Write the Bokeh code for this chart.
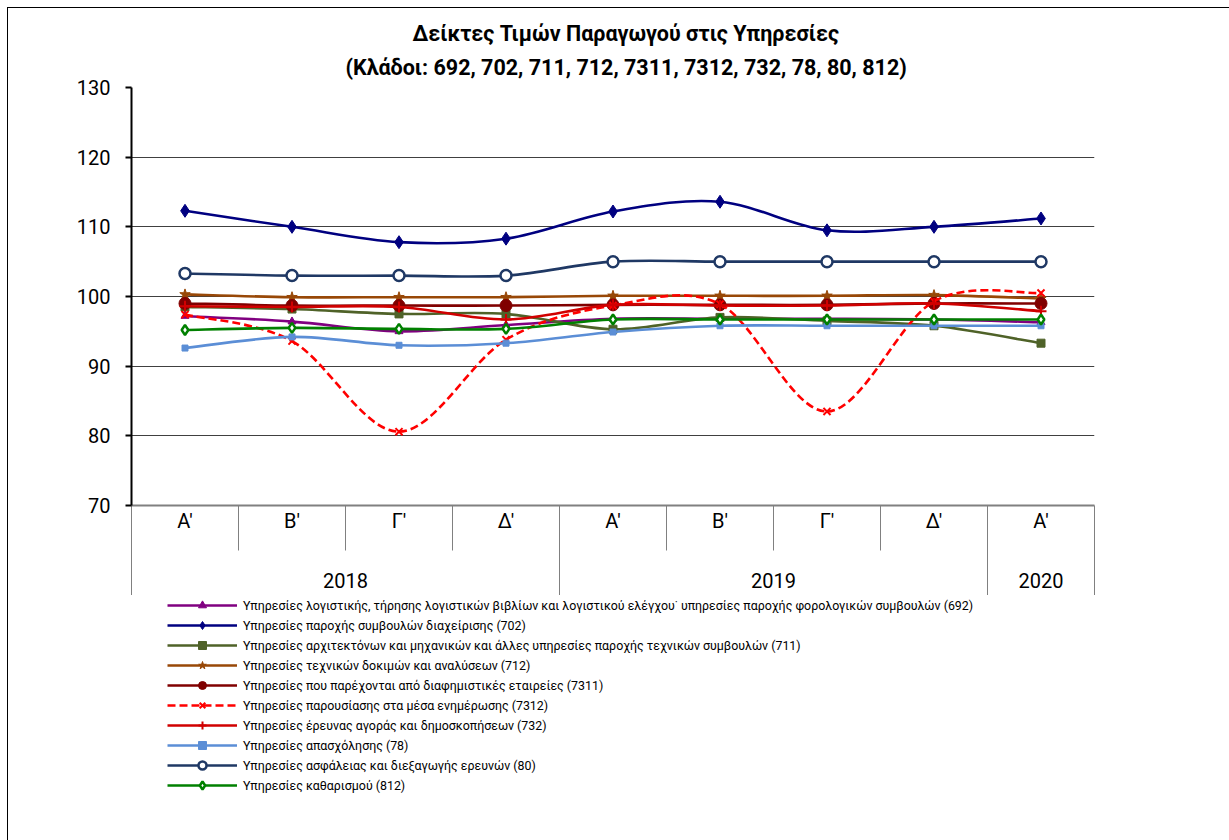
import numpy as np
from bokeh.plotting import figure
from bokeh.layouts import column
from bokeh.models import (Range1d, LinearAxis, FixedTicker, Legend, LegendItem,
                          ColumnDataSource, Grid, Title)
from bokeh.embed import file_html
from bokeh.resources import INLINE

# ---------------- data ----------------
quarters = ["Α'", "Β'", "Γ'", "Δ'", "Α'", "Β'", "Γ'", "Δ'", "Α'"]
years = ["2018", "2019", "2020"]
year_quarters = [4, 4, 1]

s692 = [97.2, 96.4, 95.0, 95.9, 96.8, 96.8, 96.8, 96.7, 96.3]
s702 = [112.3, 110.0, 107.8, 108.3, 112.2, 113.6, 109.5, 110.0, 111.2]
s711 = [98.5, 98.2, 97.5, 97.5, 95.3, 97.0, 96.5, 95.8, 93.3]
s712 = [100.3, 99.9, 99.9, 99.9, 100.1, 100.1, 100.1, 100.2, 99.7]
s7311 = [99.0, 98.7, 98.7, 98.7, 98.8, 98.8, 98.8, 99.0, 99.0]
s7312 = [97.4, 93.6, 80.6, 93.8, 98.7, 98.9, 83.5, 99.3, 100.5]
s732 = [98.6, 98.5, 98.5, 96.7, 98.8, 98.7, 98.7, 99.0, 97.9]
s78 = [92.6, 94.2, 93.0, 93.3, 94.9, 95.8, 95.8, 95.8, 95.8]
s80 = [103.3, 103.0, 103.0, 103.0, 105.0, 105.0, 105.0, 105.0, 105.0]
s812 = [95.2, 95.5, 95.35, 95.35, 96.7, 96.7, 96.7, 96.7, 96.7]

labels = [
    "Υπηρεσίες λογιστικής, τήρησης λογιστικών βιβλίων και λογιστικού ελέγχου˙ υπηρεσίες παροχής φορολογικών συμβουλών (692)",
    "Υπηρεσίες παροχής συμβουλών διαχείρισης (702)",
    "Υπηρεσίες αρχιτεκτόνων και μηχανικών και άλλες υπηρεσίες παροχής τεχνικών συμβουλών (711)",
    "Υπηρεσίες τεχνικών δοκιμών και αναλύσεων (712)",
    "Υπηρεσίες που παρέχονται από διαφημιστικές εταιρείες (7311)",
    "Υπηρεσίες παρουσίασης στα μέσα ενημέρωσης (7312)",
    "Υπηρεσίες έρευνας αγοράς και δημοσκοπήσεων (732)",
    "Υπηρεσίες απασχόλησης (78)",
    "Υπηρεσίες ασφάλειας και διεξαγωγής ερευνών (80)",
    "Υπηρεσίες καθαρισμού (812)",
]
series = [s692, s702, s711, s712, s7311, s7312, s732, s78, s80, s812]
title_lines = ["Δείκτες Τιμών Παραγωγού στις Υπηρεσίες",
               "(Κλάδοι: 692, 702, 711, 712, 7311, 7312, 732, 78, 80, 812)"]

# ---------------- styles ----------------
FONT = "Roboto"
styles = [
    dict(color="#800080", marker="triangle", size=8, fill="#800080", dash="solid"),
    dict(color="#000080", marker="diamond", size=13, fill="#000080", dash="solid"),
    dict(color="#4F6228", marker="square", size=8, fill="#4F6228", dash="solid"),
    dict(color="#984807", marker="star", size=11, fill="#984807", dash="solid"),
    dict(color="#800000", marker="circle", size=12, fill="#800000", dash="solid"),
    dict(color="#FF0000", marker="x", size=10, fill="#FF0000", dash="8 4"),
    dict(color="#D00000", marker="cross", size=11, fill="#D00000", dash="solid"),
    dict(color="#5B8ED6", marker="square", size=6, fill="#5B8ED6", dash="solid"),
    dict(color="#1F3864", marker="circle", size=11, fill="white", dash="solid"),
    dict(color="#008000", marker="diamond", size=10, fill="white", dash="solid"),
]


def marker_lw(st):
    if st["fill"] == "white":
        return 2.5
    return 2 if st["marker"] in ("x", "cross") else 1


n = len(quarters)
xs = [i + 0.5 for i in range(n)]


def bezier_cols(x, y):
    """Control points of a smoothed (Catmull-Rom style) curve through the data."""
    m = len(x)
    d = dict(x0=[], y0=[], x1=[], y1=[], cx0=[], cy0=[], cx1=[], cy1=[])
    for i in range(m - 1):
        xp, yp = (x[i - 1], y[i - 1]) if i > 0 else (x[i], y[i])
        xn, yn = (x[i + 2], y[i + 2]) if i + 2 < m else (x[i + 1], y[i + 1])
        d["x0"].append(x[i]); d["y0"].append(y[i])
        d["x1"].append(x[i + 1]); d["y1"].append(y[i + 1])
        d["cx0"].append(x[i] + (x[i + 1] - xp) / 6.0)
        d["cy0"].append(y[i] + (y[i + 1] - yp) / 6.0)
        d["cx1"].append(x[i + 1] - (xn - x[i]) / 6.0)
        d["cy1"].append(y[i + 1] - (yn - y[i]) / 6.0)
    return d


W = 1221
HA, HB = 587, 245
p = figure(width=W, height=HA, output_backend="svg", toolbar_location=None,
           x_range=Range1d(0, n), y_range=Range1d(70, 130),
           x_axis_location=None, y_axis_location=None,
           min_border_left=123, min_border_right=135,
           min_border_top=79, min_border_bottom=90)
p.outline_line_color = None
p.background_fill_color = "white"
p.border_fill_color = "white"

# titles: p.title is the outer line, the added Title sits closer to the plot
p.title.text = title_lines[0]
p.title.align = "left"
p.title.offset = 281
p.title.text_font = FONT
p.title.text_font_size = "21.5px"
p.title.text_font_style = "bold"
p.title.text_color = "black"
p.title.standoff = -2
t2 = Title(text=title_lines[1], align="left", offset=214, text_font=FONT,
           text_font_size="21.5px", text_font_style="bold", text_color="black",
           standoff=16)
p.add_layout(t2, "above")

# y axis
yax = LinearAxis(ticker=FixedTicker(ticks=[70, 80, 90, 100, 110, 120, 130], minor_ticks=[]))
yax.axis_line_color = "black"
yax.axis_line_width = 2
yax.major_tick_out = 6
yax.major_tick_in = 0
yax.major_tick_line_width = 2
yax.minor_tick_out = 0
yax.minor_tick_in = 0
yax.major_label_text_font = FONT
yax.major_label_text_font_size = "20px"
yax.major_label_text_color = "black"
yax.major_label_standoff = 15
p.add_layout(yax, "left")

p.ygrid.visible = False
p.xgrid.visible = False
g = Grid(dimension=1, ticker=FixedTicker(ticks=[80, 90, 100, 110, 120, 130]))
g.grid_line_color = "#404040"
g.grid_line_width = 1
p.add_layout(g)

# x axis: quarters row
centers = xs
bounds = [float(i) for i in range(n + 1)]
qax = LinearAxis(ticker=FixedTicker(ticks=centers, minor_ticks=bounds))
qax.axis_line_color = "#808080"
qax.axis_line_width = 2
qax.major_tick_out = 0
qax.major_tick_in = 0
qax.minor_tick_out = 45
qax.minor_tick_in = 0
qax.minor_tick_line_color = "#808080"
qax.minor_tick_line_width = 1
qax.major_label_overrides = {c: q for c, q in zip(centers, quarters)}
qax.major_label_text_font = FONT
qax.major_label_text_font_size = "20px"
qax.major_label_text_color = "black"
qax.major_label_standoff = -42
p.add_layout(qax, "below")

# x axis: years row
ycenters, ybounds, start = [], [0.0], 0
for k in year_quarters:
    ycenters.append(start + k / 2.0)
    start += k
    ybounds.append(float(start))
yrax = LinearAxis(ticker=FixedTicker(ticks=ycenters, minor_ticks=ybounds))
yrax.axis_line_color = None
yrax.major_tick_out = 0
yrax.major_tick_in = 0
yrax.minor_tick_in = 27
yrax.minor_tick_out = 62
yrax.minor_tick_line_color = "#808080"
yrax.minor_tick_line_width = 1
yrax.major_label_overrides = {c: yy for c, yy in zip(ycenters, years)}
yrax.major_label_text_font = FONT
yrax.major_label_text_font_size = "20px"
yrax.major_label_text_color = "black"
yrax.major_label_standoff = -25
p.add_layout(yrax, "below")

# legend panel: a second, axis-less figure directly under the chart.
# Its renderers share the chart's sources but its y range lies far below the
# data, so only their styles appear, as legend keys.
pl = figure(width=W, height=HB, output_backend="svg", toolbar_location=None,
            x_range=Range1d(0, n), y_range=Range1d(0, 1),
            x_axis_location=None, y_axis_location=None,
            min_border=0)
pl.outline_line_color = None
pl.xgrid.visible = False
pl.ygrid.visible = False
pl.background_fill_color = "white"
pl.border_fill_color = "white"

items = []
for s, st, lab in zip(series, styles, labels):
    src = ColumnDataSource(bezier_cols(xs, s))
    pts = ColumnDataSource(dict(x=xs, y=s))
    kw_line = dict(x0="x0", y0="y0", x1="x1", y1="y1", cx0="cx0", cy0="cy0",
                   cx1="cx1", cy1="cy1", source=src, line_color=st["color"],
                   line_width=2.6, line_dash=st["dash"])
    kw_pts = dict(x="x", y="y", source=pts, marker=st["marker"], size=st["size"],
                  fill_color=st["fill"], line_color=st["color"], line_width=marker_lw(st))
    p.bezier(**kw_line)
    p.scatter(**kw_pts)
    kb = pl.bezier(**kw_line)
    ks = pl.scatter(**kw_pts)
    items.append(LegendItem(label=lab, renderers=[kb, ks]))

legend = Legend(items=items, location=(36, HB - 200), orientation="vertical")
legend.glyph_width = 70
legend.glyph_height = 20
legend.label_height = 20
legend.spacing = 0
legend.padding = 0
legend.margin = 0
legend.label_standoff = 6
legend.label_text_font = FONT
legend.label_text_font_size = "12.4px"
legend.label_text_color = "black"
legend.border_line_color = None
legend.background_fill_alpha = 0
pl.add_layout(legend, "center")

layout = column(p, pl, spacing=0)
layout.styles = {"margin-left": "7px", "margin-top": "7px",
                 "border-left": "1px solid #000", "border-top": "1px solid #000"}

open("out.html", "w").write(file_html(layout, INLINE))
